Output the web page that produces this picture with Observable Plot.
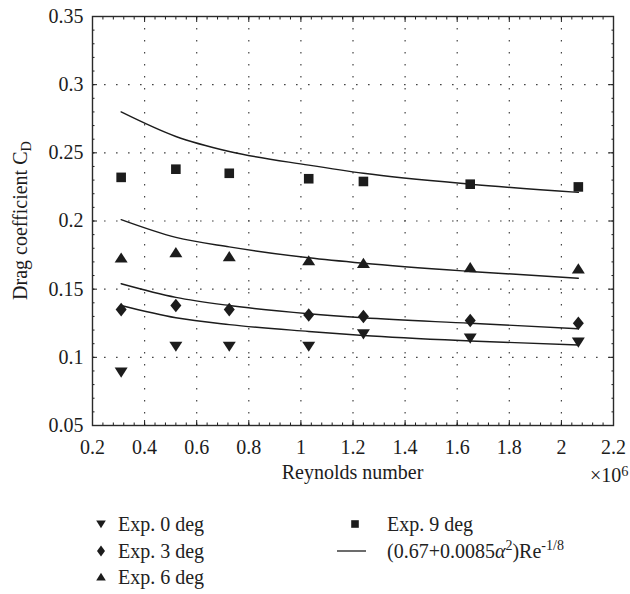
<!DOCTYPE html>
<html><head><meta charset="utf-8">
<script src="https://cdn.jsdelivr.net/npm/d3@7"></script>
<script src="https://cdn.jsdelivr.net/npm/@observablehq/plot@0.6"></script>
<style>
body{margin:0;background:#fff;}
#wrap{position:relative;width:630px;height:594px;font-family:"Liberation Serif","Times New Roman","DejaVu Serif",serif;color:#222;overflow:hidden;}
#legend{position:absolute;left:0;top:500px;width:630px;height:94px;}
.lg{position:absolute;font-size:20px;line-height:20px;white-space:nowrap;}
.mk{position:absolute;}
sup{font-size:0.7em;line-height:0;vertical-align:0.6em;}
</style></head><body><div id="wrap"></div>
<script>
// Reynolds numbers (x 10^6)
const reynolds = [0.31, 0.52, 0.725, 1.03, 1.24, 1.65, 2.065];
// Experimental drag coefficients
const cd0 = [0.089, 0.108, 0.108, 0.108, 0.117, 0.114, 0.111];
const cd3 = [0.135, 0.138, 0.135, 0.131, 0.130, 0.127, 0.125];
const cd6 = [0.173, 0.177, 0.174, 0.171, 0.169, 0.166, 0.165];
const cd9 = [0.232, 0.238, 0.235, 0.231, 0.229, 0.227, 0.225];
// Fitted curves
const fit0 = [0.138, 0.129, 0.124, 0.119, 0.116, 0.112, 0.109];
const fit3 = [0.154, 0.144, 0.138, 0.132, 0.129, 0.125, 0.121];
const fit6 = [0.201, 0.188, 0.181, 0.173, 0.169, 0.163, 0.158];
const fit9 = [0.280, 0.262, 0.251, 0.241, 0.235, 0.227, 0.221];
// Ticks
const xTicks = [0.2, 0.4, 0.6, 0.8, 1, 1.2, 1.4, 1.6, 1.8, 2, 2.2];
const xTickLabels = ["0.2","0.4","0.6","0.8","1","1.2","1.4","1.6","1.8","2","2.2"];
const yTicks = [0.05, 0.1, 0.15, 0.2, 0.25, 0.3, 0.35];
const yTickLabels = ["0.05","0.1","0.15","0.2","0.25","0.3","0.35"];
const seriesNames = ["Exp. 0 deg", "Exp. 3 deg", "Exp. 6 deg", "Exp. 9 deg"];
const xLabel = "Reynolds number";
const yLabel = "Drag coefficient C";
const yLabelSub = "D";

const FONT = '"Liberation Serif", "Times New Roman", "DejaVu Serif", serif';
const xMap = new Map(xTicks.map((d, i) => [d, xTickLabels[i]]));
const yMap = new Map(yTicks.map((d, i) => [d, yTickLabels[i]]));
const xMinor = d3.range(0, 51).map(i => 0.2 + i * 0.04);
const yMinor = d3.range(0, 31).map(i => 0.05 + i * 0.01);

const symDown = {draw(c){ c.moveTo(-6.5,-4.8); c.lineTo(6.5,-4.8); c.lineTo(0,5.4); c.closePath(); }};
const symUp = {draw(c){ c.moveTo(-6.5,4.8); c.lineTo(6.5,4.8); c.lineTo(0,-5.4); c.closePath(); }};
const symDiamond = {draw(c){ c.moveTo(0,-6.8); c.lineTo(5.5,0); c.lineTo(0,6.8); c.lineTo(-5.5,0); c.closePath(); }};
const symSquare = {draw(c){ c.rect(-4.8,-4.8,9.6,9.6); }};

const expSets = [cd0, cd3, cd6, cd9];
const fitSets = [fit0, fit3, fit6, fit9];
const syms = [symDown, symDiamond, symUp, symSquare];
const fitRows = fitSets.flatMap((arr, s) => reynolds.map((re, i) => ({re, cd: arr[i], s})));

const ink = "#1c1c1c";
const fs = "20px";

const marks = [
  Plot.gridX(xTicks.slice(1, -1), {stroke: "#444", strokeOpacity: 1, strokeWidth: 1.2, strokeDasharray: "1.6,10.4"}),
  Plot.gridY(yTicks.slice(1, -1), {stroke: "#444", strokeOpacity: 1, strokeWidth: 1.2, strokeDasharray: "1.6,10.4"}),
  Plot.axisX(xTicks, {anchor: "bottom", tickSize: -5, tickFormat: () => "", label: null, stroke: ink}),
  Plot.axisX(xTicks, {anchor: "top", tickSize: -5, tickFormat: () => "", label: null, stroke: ink}),
  Plot.axisX(xMinor, {anchor: "bottom", tickSize: -2.5, tickFormat: () => "", label: null, stroke: ink}),
  Plot.axisX(xMinor, {anchor: "top", tickSize: -2.5, tickFormat: () => "", label: null, stroke: ink}),
  Plot.axisY(yTicks, {anchor: "left", tickSize: -5, tickFormat: () => "", label: null, stroke: ink}),
  Plot.axisY(yTicks, {anchor: "right", tickSize: -5, tickFormat: () => "", label: null, stroke: ink}),
  Plot.axisY(yMinor, {anchor: "left", tickSize: -2.5, tickFormat: () => "", label: null, stroke: ink}),
  Plot.axisY(yMinor, {anchor: "right", tickSize: -2.5, tickFormat: () => "", label: null, stroke: ink}),
  Plot.axisX(xTicks, {anchor: "bottom", tickSize: 0, tickPadding: 14, tickFormat: d => xMap.get(d), label: null, fontSize: fs, fontFamily: FONT, fill: ink}),
  Plot.axisY(yTicks, {anchor: "left", tickSize: 0, tickPadding: 9, tickFormat: d => yMap.get(d), label: null, fontSize: fs, fontFamily: FONT, fill: ink}),
  Plot.line(fitRows, {x: "re", y: "cd", z: "s", curve: "monotone-x", stroke: ink, strokeWidth: 1.4}),
  ...expSets.map((arr, s) => Plot.dot(reynolds, {x: d => d, y: (d, i) => arr[i], symbol: syms[s], fill: ink, stroke: "none", r: 5})),
  Plot.frame({stroke: "#2a2a2a", strokeWidth: 1.4})
];

const svg = Plot.plot({
  width: 630, height: 500,
  marginLeft: 92, marginRight: 17, marginTop: 16, marginBottom: 75,
  x: {domain: [0.2, 2.2], label: null},
  y: {domain: [0.05, 0.35], label: null},
  style: {fontFamily: FONT, fontSize: fs, color: ink, background: "#fff", overflow: "visible"},
  marks
});

const sel = d3.select(svg);
const yl = sel.append("text")
  .attr("transform", "translate(27,220.5) rotate(-90)")
  .attr("text-anchor", "middle").attr("fill", ink).attr("font-size", fs)
  .attr("font-family", FONT);
yl.append("tspan").text(yLabel);
yl.append("tspan").attr("dy", "0.3em").attr("font-size", "0.72em").text(yLabelSub);

sel.append("text").attr("x", 352.5).attr("y", 479).attr("text-anchor", "middle")
  .attr("fill", ink).attr("font-size", fs).attr("font-family", FONT).text(xLabel);

const ex = sel.append("text").attr("x", 590).attr("y", 482).attr("fill", ink)
  .attr("text-anchor", "start")
  .attr("font-size", fs).attr("font-family", FONT);
ex.append("tspan").text("×10");
ex.append("tspan").attr("dy", "-0.45em").attr("font-size", "0.72em").text("6");

const wrap = document.getElementById("wrap");
wrap.appendChild(svg);

const legend = document.createElement("div");
legend.id = "legend";
wrap.appendChild(legend);
const markerPaths = [
  "M-4.8,-3.6L4.8,-3.6L0,4.2Z",
  "M0,-5.4L4,0L0,5.4L-4,0Z",
  "M-4.8,3.6L4.8,3.6L0,-4.2Z",
  "M-3.8,-3.8h7.6v7.6h-7.6Z"
];
const items = [
  {col: 0, row: 0, s: 0}, {col: 0, row: 1, s: 1}, {col: 0, row: 2, s: 2}, {col: 1, row: 0, s: 3}
];
const rowTop = [14, 40.5, 67];
const colText = [118, 387];
const colMark = [101, 355];
items.forEach(it => {
  const t = document.createElement("div");
  t.className = "lg";
  t.style.left = colText[it.col] + "px";
  t.style.top = rowTop[it.row] + "px";
  t.textContent = seriesNames[it.s];
  legend.appendChild(t);
  const m = document.createElementNS("http://www.w3.org/2000/svg", "svg");
  m.setAttribute("width", 14); m.setAttribute("height", 14);
  m.setAttribute("viewBox", "-7 -7 14 14");
  m.setAttribute("class", "mk");
  m.style.left = (colMark[it.col] - 7) + "px";
  m.style.top = (rowTop[it.row] + 10 - 7) + "px";
  const p = document.createElementNS("http://www.w3.org/2000/svg", "path");
  p.setAttribute("d", markerPaths[it.s]); p.setAttribute("fill", ink);
  m.appendChild(p);
  legend.appendChild(m);
});
const lm = document.createElementNS("http://www.w3.org/2000/svg", "svg");
lm.setAttribute("width", 30); lm.setAttribute("height", 4);
lm.setAttribute("class", "mk");
lm.style.left = "337px"; lm.style.top = (rowTop[1] + 10 - 2) + "px";
const ln = document.createElementNS("http://www.w3.org/2000/svg", "line");
ln.setAttribute("x1", 0); ln.setAttribute("x2", 29); ln.setAttribute("y1", 2); ln.setAttribute("y2", 2);
ln.setAttribute("stroke", ink); ln.setAttribute("stroke-width", 1.3);
lm.appendChild(ln); legend.appendChild(lm);
const ft = document.createElement("div");
ft.className = "lg";
ft.style.left = colText[1] + "px";
ft.style.top = rowTop[1] + "px";
ft.innerHTML = "(0.67+0.0085<i>α</i><sup>2</sup>)Re<sup>-1/8</sup>";
legend.appendChild(ft);
</script></body></html>
